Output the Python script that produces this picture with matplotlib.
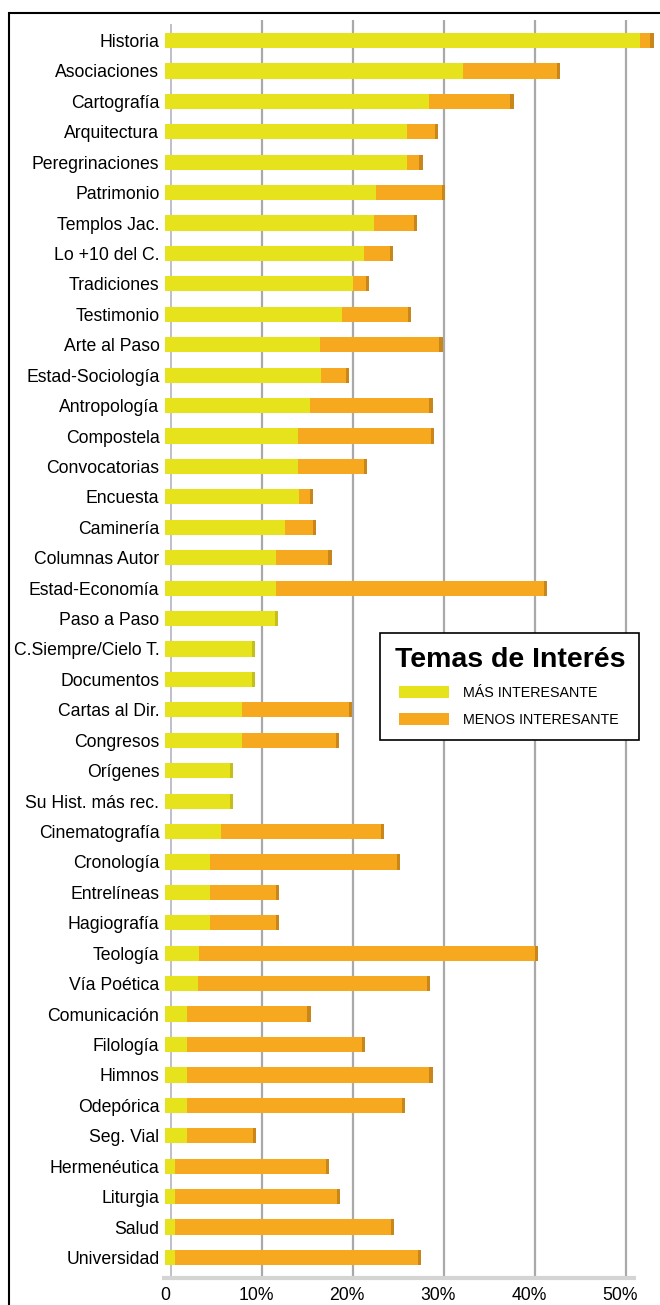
import matplotlib
matplotlib.use("Agg")
import matplotlib.pyplot as plt
import matplotlib.transforms as mtransforms
from matplotlib.patches import Rectangle

categories = ["Historia", "Asociaciones", "Cartografía", "Arquitectura", "Peregrinaciones",
              "Patrimonio", "Templos Jac.", "Lo +10 del C.", "Tradiciones", "Testimonio",
              "Arte al Paso", "Estad-Sociología", "Antropología", "Compostela", "Convocatorias",
              "Encuesta", "Caminería", "Columnas Autor", "Estad-Economía", "Paso a Paso",
              "C.Siempre/Cielo T.", "Documentos", "Cartas al Dir.", "Congresos", "Orígenes",
              "Su Hist. más rec.", "Cinematografía", "Cronología", "Entrelíneas", "Hagiografía",
              "Teología", "Vía Poética", "Comunicación", "Filología", "Himnos",
              "Odepórica", "Seg. Vial", "Hermenéutica", "Liturgia", "Salud", "Universidad"]

# "Más interesante" (%)
mas = [52.2, 32.7, 29.0, 26.6, 26.6,
       23.2, 23.0, 21.9, 20.7, 19.4,
       17.0, 17.1, 15.9, 14.6, 14.6,
       14.7, 13.2, 12.2, 12.2, 12.4,
       9.9, 9.9, 8.5, 8.5, 7.5,
       7.5, 6.1, 4.9, 4.9, 4.9,
       3.7, 3.6, 2.4, 2.4, 2.4,
       2.4, 2.4, 1.1, 1.1, 1.1, 1.1]

# Total (más + menos) (%)
total = [53.7, 43.4, 38.3, 30.0, 28.3,
         30.8, 27.7, 25.1, 22.4, 27.0,
         30.5, 20.2, 29.4, 29.6, 22.2,
         16.3, 16.6, 18.3, 42.0, 12.4,
         9.9, 9.9, 20.6, 19.1, 7.5,
         7.5, 24.1, 25.8, 12.5, 12.5,
         41.0, 29.1, 16.0, 22.0, 29.4,
         26.4, 10.0, 18.0, 19.2, 25.2, 28.1]

menos = [round(t - m, 2) for t, m in zip(total, mas)]

xticks = [0, 10, 20, 30, 40, 50]
xticklabels = ["0", "10%", "20%", "30%", "40%", "50%"]

legend_title = "Temas de Interés"
series_labels = ["MÁS INTERESANTE", "MENOS INTERESANTE"]

font = "Liberation Sans"

W, H = 660, 1305
fig = plt.figure(figsize=(W / 100, H / 100), dpi=100)
fig.patch.set_facecolor("white")

def fx(px):
    return px / W

def fy(py):
    return 1 - py / H

# outer frame (right/bottom edges run off the image)
fig.patches.append(Rectangle((fx(9), -0.1), 1.2, fy(13) + 0.1, transform=fig.transFigure,
                             fill=False, edgecolor="black", linewidth=1.5))

ax_left, ax_right = 165, 660
ax_top, ax_bottom = 20, 1279
ax = fig.add_axes([fx(ax_left), fy(ax_bottom), (ax_right - ax_left) / W, (ax_bottom - ax_top) / H])
n = len(categories)
ypos = list(range(n))
ax.set_xlim(0, (ax_right - ax_left) / 9.1)
ax.set_ylim(n - 1 + 0.707, -0.673)
for s in ax.spines.values():
    s.set_visible(False)

# back-wall gridlines (shifted for the 3D look)
shift = mtransforms.ScaledTranslation(0.06, 0.0, fig.dpi_scale_trans)
ax.vlines(xticks[1:], -0.673, n - 1 + 0.6, colors="#a9a9a9", linewidth=1.6,
          transform=ax.transData + shift, zorder=1)
ax.vlines([0], -0.55, n - 1 + 0.6, colors="#b4b4c4", linewidth=1.2,
          transform=ax.transData + shift, zorder=1)
# floor
ax.hlines([n - 1 + 0.66], -0.3, 51.8, colors="#d4d4d4", linewidth=3, clip_on=False, zorder=1)

yellow = "#e6e31c"
orange = "#f6a81e"
bh = 0.5
b1 = ax.barh(ypos, mas, height=bh, color=yellow, label=series_labels[0], zorder=3)
b2 = ax.barh(ypos, menos, left=mas, height=bh, color=orange, label=series_labels[1], zorder=3)
# darker end caps
caps = [0.35] * n
cap_left = [t - 0.35 for t in total]
cap_cols = ["#c9861a" if m > 0 else "#c4bf1a" for m in menos]
ax.barh(ypos, caps, left=cap_left, height=bh, color=cap_cols, zorder=4)

ax.set_yticks(ypos)
ax.set_yticklabels(categories, fontfamily=font, fontsize=12.7)
ax.set_xticks(xticks)
ax.set_xticklabels(xticklabels, fontfamily=font, fontsize=12.7)
ax.tick_params(axis="y", length=0, pad=4)
ax.tick_params(axis="x", length=0, pad=6)

# legend box with title
fig.patches.append(Rectangle((fx(380), fy(740)), fx(639) - fx(380), fy(633) - fy(740),
                             transform=fig.transFigure, facecolor="white", edgecolor="black",
                             linewidth=1.2, zorder=9))
fig.text(fx(510), fy(660), legend_title, ha="center", va="center", fontfamily=font,
         fontweight="bold", fontsize=20.5, zorder=11)
leg = fig.legend(handles=[b1, b2], labels=series_labels,
                 loc="upper left", bbox_to_anchor=(fx(399), fy(686)),
                 bbox_transform=fig.transFigure,
                 prop={"family": font, "size": 10.3},
                 handlelength=3.5, handleheight=0.9, handletextpad=1.0,
                 labelspacing=0.93, borderpad=0, borderaxespad=0, frameon=False)
leg.set_zorder(12)

fig.savefig("out.png", dpi=100, facecolor="white")
